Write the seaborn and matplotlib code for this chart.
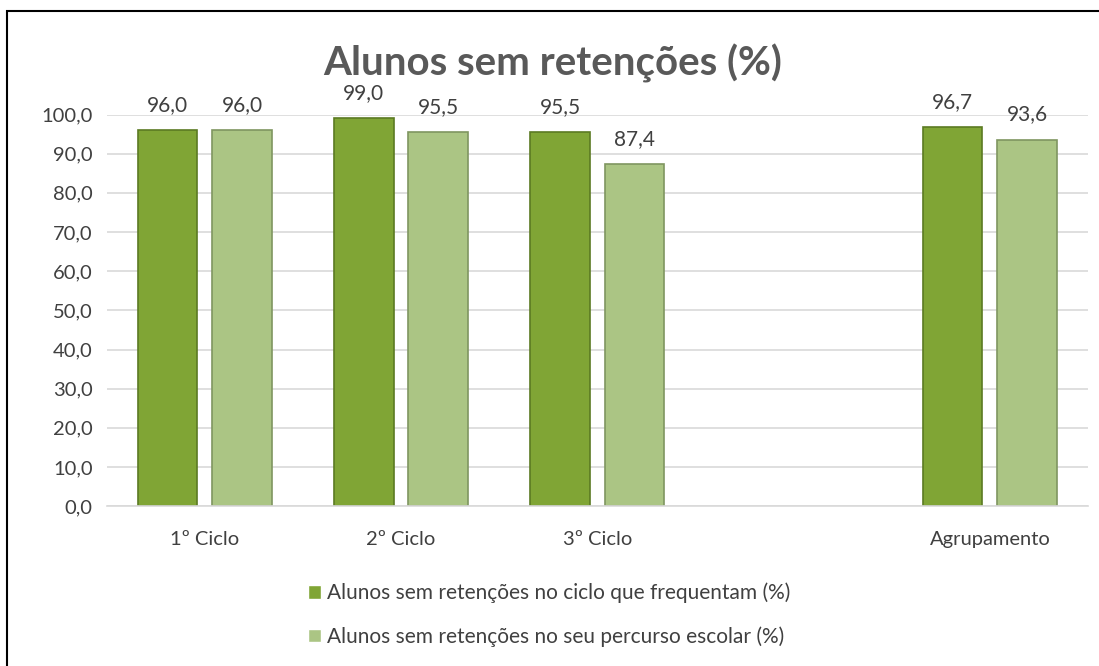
import matplotlib
matplotlib.use("Agg")
import matplotlib.pyplot as plt
import numpy as np
import pandas as pd
import seaborn as sns

CATEGORIES = ["1º Ciclo", "2º Ciclo", "3º Ciclo", " ", "Agrupamento"]
SERIES = [
    "Alunos sem retenções no ciclo que frequentam (%)",
    "Alunos sem retenções no seu percurso escolar (%)",
]
CICLO_VALUES = [96.0, 99.0, 95.5, np.nan, 96.7]
PERCURSO_VALUES = [96.0, 95.5, 87.4, np.nan, 93.6]
COLORS = ["#80A535", "#ABC584"]
EDGE_COLORS = ["#5B7A22", "#7F9660"]

df = pd.DataFrame({
    "categoria": CATEGORIES * 2,
    "serie": [SERIES[0]] * len(CATEGORIES) + [SERIES[1]] * len(CATEGORIES),
    "valor": CICLO_VALUES + PERCURSO_VALUES,
})

sns.set_style("white")
plt.rcParams["font.family"] = ["Lato", "DejaVu Sans"]

fig = plt.figure(figsize=(10.99, 6.66), dpi=100)
ax = fig.add_axes([0.097, 0.24, 0.893, 0.588])

sns.barplot(
    data=df, x="categoria", y="valor", hue="serie", order=CATEGORIES,
    hue_order=SERIES, palette=COLORS, width=0.76, gap=0.2, ax=ax,
    legend=True, errorbar=None, saturation=1,
)

for container, edge in zip(ax.containers, EDGE_COLORS):
    for bar in container:
        bar.set_edgecolor(edge)
        bar.set_linewidth(1.2)
    labels = [
        "" if np.isnan(v) else f"{v:.1f}".replace(".", ",")
        for v in container.datavalues
    ]
    ax.bar_label(container, labels=labels, padding=11, fontsize=15, color="#404040")

ax.set_ylim(0, 100)
ax.set_yticks(np.arange(0, 101, 10))
ax.set_yticklabels([f"{t:.1f}".replace(".", ",") for t in np.arange(0, 101, 10)])
ax.set_xlim(-0.5, 4.5)
ax.yaxis.grid(True, color="#d9d9d9", linewidth=1.2)
ax.set_axisbelow(True)
for side in ["top", "right", "left"]:
    ax.spines[side].set_visible(False)
ax.spines["bottom"].set_color("#d9d9d9")
ax.spines["bottom"].set_linewidth(1.2)
ax.tick_params(axis="both", length=0, labelsize=14.5, labelcolor="#404040")
ax.tick_params(axis="x", pad=18)
ax.tick_params(axis="y", pad=10)
ax.set_xlabel("")
ax.set_ylabel("")

ax.legend_.remove()
handles, labels = ax.get_legend_handles_labels()
fig.legend(
    handles, labels, loc="center", bbox_to_anchor=(0.5, 0.077), ncol=1,
    frameon=False, fontsize=15, handlelength=0.6, handleheight=0.6,
    handletextpad=0.3, labelspacing=1.1, labelcolor="#404040",
)

fig.text(0.503, 0.905, "Alunos sem retenções (%)", ha="center", va="center",
         fontsize=29, fontweight="bold", color="#595959")

fig.patches.append(plt.Rectangle((0.0065, -0.01), 1.1, 0.9935, transform=fig.transFigure,
                                 fill=False, edgecolor="black", linewidth=1.5))

fig.savefig("out.png", dpi=100)
